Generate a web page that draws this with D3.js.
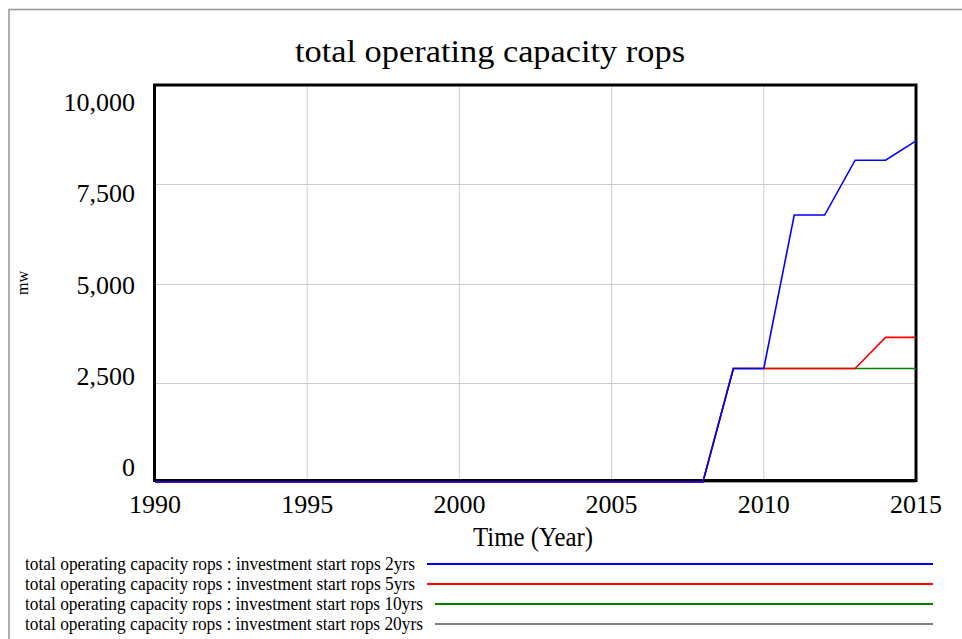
<!DOCTYPE html>
<html>
<head>
<meta charset="utf-8">
<script src="https://cdn.jsdelivr.net/npm/d3@7"></script>
<style>
  html, body { margin: 0; padding: 0; background: #fff; }
  svg { display: block; }
  text { font-family: "Liberation Serif", "Times New Roman", serif; fill: #000; }
</style>
</head>
<body>
<script>
// ---- data ----
const years = d3.range(1990, 2016);
const s2yrs  = [0,0,0,0,0,0,0,0,0,0,0,0,0,0,0,0,0,0,0, 2860,2860,6725,6725,8106,8106,8593];
const s5yrs  = [0,0,0,0,0,0,0,0,0,0,0,0,0,0,0,0,0,0,0, 2860,2860,2860,2860,2860,3644,3644];
const s10yrs = [0,0,0,0,0,0,0,0,0,0,0,0,0,0,0,0,0,0,0, 2860,2860,2860,2860,2860,2860,2860];
const s20yrs = [0,0,0,0,0,0,0,0,0,0,0,0,0,0,0,0,0,0,0, 0,0,0,0,0,0,0];
const seriesNames = [
  "total operating capacity rops : investment start rops 2yrs",
  "total operating capacity rops : investment start rops 5yrs",
  "total operating capacity rops : investment start rops 10yrs",
  "total operating capacity rops : investment start rops 20yrs"
];
const seriesColors = ["#0000ff", "#ff0000", "#008000", "#808080"];
const xTicks = [1990, 1995, 2000, 2005, 2010, 2015];
const yTicks = [0, 2500, 5000, 7500, 10000];
const titleText = "total operating capacity rops";
const xTitle = "Time (Year)";
const yTitle = "mw";

const W = 962, H = 639;
const svg = d3.select("body").append("svg").attr("width", W).attr("height", H);

// outer frame
svg.append("rect").attr("x", 9).attr("y", 9.5).attr("width", 1200).attr("height", 1200)
  .attr("fill", "none").attr("stroke", "#9c9c9c").attr("stroke-width", 1.6);

const L = 154.5, R = 916, T = 85, B = 480.5;
const x = d3.scaleLinear().domain([1990, 2015]).range([155, 916]);
const y = d3.scaleLinear().domain([0, 10000]).range([482, 85]);
const yLab = d3.scaleLinear().domain([0, 10000]).range([476, 111]);

// title
svg.append("text").attr("x", 490).attr("y", 62).attr("text-anchor", "middle")
  .attr("font-size", 32).attr("textLength", 390).attr("lengthAdjust", "spacingAndGlyphs")
  .text(titleText);

// gridlines
svg.append("g").selectAll("line").data(xTicks.filter(t => t > 1990 && t < 2015)).join("line")
  .attr("x1", d => x(d)).attr("x2", d => x(d)).attr("y1", T).attr("y2", B)
  .attr("stroke", "#cccccc").attr("stroke-width", 1);
svg.append("g").selectAll("line").data(yTicks.filter(t => t > 0 && t < 10000)).join("line")
  .attr("x1", L).attr("x2", R).attr("y1", d => Math.round(y(d)) + 0.5).attr("y2", d => Math.round(y(d)) + 0.5)
  .attr("stroke", "#cccccc").attr("stroke-width", 1);

const line = d3.line().x((d, i) => x(years[i])).y(d => y(d));
const allSeries = [s2yrs, s5yrs, s10yrs, s20yrs];

// gray series under frame
svg.append("path").datum(s20yrs).attr("d", line).attr("fill", "none")
  .attr("stroke", seriesColors[3]).attr("stroke-width", 1.6);

// plot frame
svg.append("rect").attr("x", L).attr("y", T).attr("width", R - L).attr("height", B - T)
  .attr("fill", "none").attr("stroke", "#000").attr("stroke-width", 3);

// other series: green, red, blue on top
[2, 1, 0].forEach(i => {
  svg.append("path").datum(allSeries[i]).attr("d", line).attr("fill", "none")
    .attr("stroke", seriesColors[i]).attr("stroke-width", 1.6).attr("stroke-linejoin", "miter");
});

// y labels
svg.append("g").selectAll("text").data(yTicks).join("text")
  .attr("x", 135).attr("y", d => yLab(d)).attr("text-anchor", "end")
  .attr("font-size", 26)
  .text(d => d3.format(",")(d));

// x labels
svg.append("g").selectAll("text").data(xTicks).join("text")
  .attr("x", d => x(d)).attr("y", 513).attr("text-anchor", "middle")
  .attr("font-size", 26)
  .text(d => d);

// axis titles
svg.append("text").attr("x", 533).attr("y", 546).attr("text-anchor", "middle")
  .attr("font-size", 28).attr("textLength", 120).attr("lengthAdjust", "spacingAndGlyphs")
  .text(xTitle);
svg.append("text").attr("transform", "translate(28,283) rotate(-90)").attr("text-anchor", "middle")
  .attr("font-size", 16).text(yTitle);

// legend
const legY = [564, 584, 604, 624];
const legTextEnd = [415, 415, 423, 423];
const leg = svg.append("g");
seriesNames.forEach((name, i) => {
  leg.append("text").attr("x", 25).attr("y", legY[i] + 5.5)
    .attr("font-size", 19).attr("textLength", legTextEnd[i] - 25).attr("lengthAdjust", "spacingAndGlyphs")
    .text(name);
  leg.append("line").attr("x1", legTextEnd[i] + 12).attr("x2", 933)
    .attr("y1", legY[i]).attr("y2", legY[i])
    .attr("stroke", seriesColors[i]).attr("stroke-width", 2);
});
</script>
</body>
</html>
